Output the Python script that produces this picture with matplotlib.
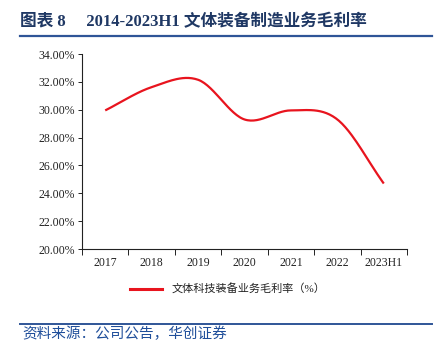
import numpy as np
import matplotlib
matplotlib.use("Agg")
import matplotlib.pyplot as plt
from matplotlib.ticker import FuncFormatter, FixedLocator
from matplotlib.lines import Line2D

categories = ["2017", "2018", "2019", "2020", "2021", "2022", "2023H1"]
margin = [29.95, 31.62, 32.15, 29.30, 29.95, 29.30, 24.70]
series_name = "文体科技装备业务毛利率（%）"
title_text = "图表 8     2014-2023H1 文体装备制造业务毛利率"
source_text = "资料来源：公司公告，华创证券"
y_ticks = [20, 22, 24, 26, 28, 30, 32, 34]

CJK = ["Liberation Serif", "Noto Sans CJK SC", "DejaVu Sans"]
plt.rcParams['font.family'] = CJK


def catmull_rom(x, y, n=30):
    x = np.asarray(x, float); y = np.asarray(y, float)
    px = np.concatenate([[2 * x[0] - x[1]], x, [2 * x[-1] - x[-2]]])
    py = np.concatenate([[2 * y[0] - y[1]], y, [2 * y[-1] - y[-2]]])
    xs, ys = [], []
    for i in range(1, len(px) - 2):
        t = np.linspace(0, 1, n, endpoint=(i == len(px) - 3))
        for P, out in ((px, xs), (py, ys)):
            p0, p1, p2, p3 = P[i - 1], P[i], P[i + 1], P[i + 2]
            out.extend(0.5 * ((2 * p1) + (-p0 + p2) * t + (2 * p0 - 5 * p1 + 4 * p2 - p3) * t ** 2
                              + (-p0 + 3 * p1 - 3 * p2 + p3) * t ** 3))
    return np.array(xs), np.array(ys)


fig = plt.figure(figsize=(4.4, 3.43), dpi=100)
ax = fig.add_axes([82 / 440, 1 - 249 / 343, (407 - 82) / 440, (249 - 54) / 343])

xpos = np.arange(len(categories))
sx, sy = catmull_rom(xpos, margin)
ax.plot(sx, sy, color="#E8141E", lw=1.6, solid_capstyle="butt")

ax.set_xlim(-0.5, len(categories) - 0.5)
ax.set_ylim(20, 34)
ax.set_yticks(y_ticks)
ax.yaxis.set_major_formatter(FuncFormatter(lambda v, p: f"{v:.2f}%"))
ax.set_xticks(xpos)
ax.set_xticklabels(categories)
ax.xaxis.set_minor_locator(FixedLocator(np.arange(-0.5, len(categories), 1.0)))
ax.tick_params(axis='x', which='major', length=0, pad=6, labelsize=8.5, colors="#222222")
ax.tick_params(axis='x', which='minor', length=4, width=0.7, direction='out', color="#222222")
ax.tick_params(axis='y', length=3, width=0.7, direction='out', labelsize=8.5, colors="#222222", pad=2)
for s in ("top", "right"):
    ax.spines[s].set_visible(False)
for s in ("left", "bottom"):
    ax.spines[s].set_color("#222222")
    ax.spines[s].set_linewidth(0.8)

# legend
fig.add_artist(Line2D([130 / 440, 162 / 440], [1 - 289 / 343] * 2, color="#E8141E", lw=2.2))
fig.text(172 / 440, 1 - 289 / 343, series_name, fontsize=8, va="center", ha="left", color="#222222")

# title
fig.text(20 / 440, 1 - 22 / 343, title_text, fontsize=12, fontweight="bold", color="#1F3864",
         va="center", ha="left")
fig.add_artist(Line2D([20 / 440, 432 / 440], [1 - 36 / 343] * 2, color="#2F5597", lw=1.6))

# footer
fig.add_artist(Line2D([20 / 440, 432 / 440], [1 - 324 / 343] * 2, color="#2F5597", lw=1.4))
fig.text(22 / 440, 1 - 334 / 343, source_text, fontsize=10.5, color="#1F4E9A", style="italic",
         va="center", ha="left")

fig.savefig("out.png", dpi=100)
